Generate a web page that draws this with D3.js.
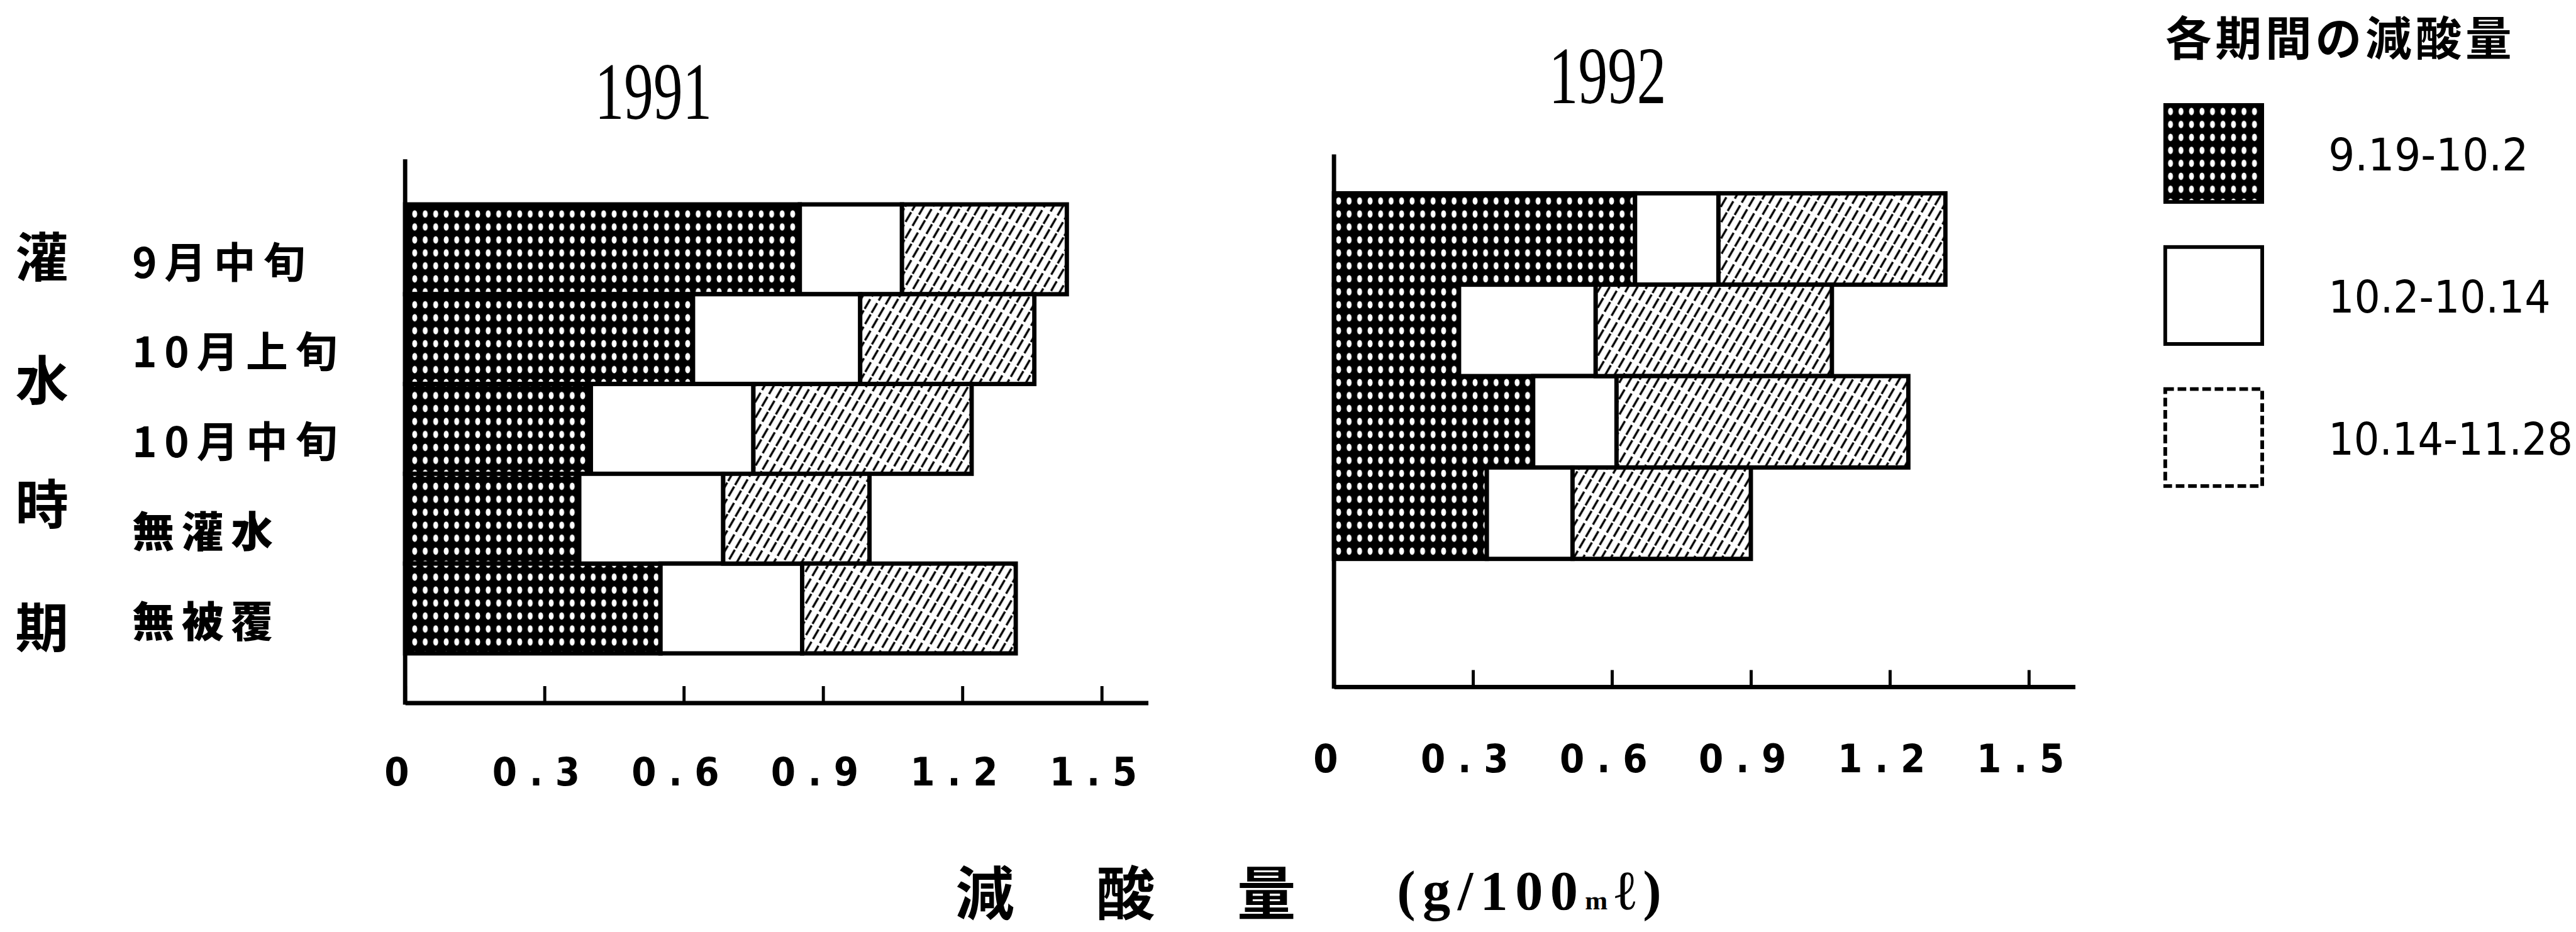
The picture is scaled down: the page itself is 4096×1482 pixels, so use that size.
<!DOCTYPE html>
<html>
<head>
<meta charset="utf-8">
<script src="https://cdn.jsdelivr.net/npm/d3@7"></script>
<style>
  body { margin: 0; background: #fff; }
</style>
</head>
<body>
<svg width="4096" height="1482"></svg>
<script>
// data (g/100ml)
var periods = ["9.19-10.2", "10.2-10.14", "10.14-11.28"];
var rows = ["9月中旬", "10月上旬", "10月中旬", "無灌水", "無被覆"];
var ticks = [0, 0.3, 0.6, 0.9, 1.2, 1.5];
var tickLabels = ["0", "0.3", "0.6", "0.9", "1.2", "1.5"];

var v1991_p1 = [0.85, 0.62, 0.40, 0.375, 0.55];
var v1991_p2 = [0.22, 0.36, 0.35, 0.31, 0.305];
var v1991_p3 = [0.355, 0.375, 0.47, 0.315, 0.46];

var v1992_p1 = [0.65, 0.27, 0.43, 0.33, 0];
var v1992_p2 = [0.18, 0.295, 0.18, 0.185, 0];
var v1992_p3 = [0.49, 0.51, 0.63, 0.385, 0];

var sideLabel = ["灌", "水", "時", "期"];
var legendTitle = "各期間の減酸量";

var svg = d3.select("svg");
var defs = svg.append("defs");
var root = svg.append("g").attr("transform", "scale(0.982)");

// fill patterns
var pd = defs.append("pattern").attr("id", "dots")
    .attr("patternUnits", "userSpaceOnUse").attr("width", 17).attr("height", 21);
pd.append("rect").attr("width", 17).attr("height", 21).attr("fill", "#000");
pd.append("ellipse").attr("cx", 8.5).attr("cy", 10.5).attr("rx", 4).attr("ry", 6).attr("fill", "#fff");

var ph = defs.append("pattern").attr("id", "hatch")
    .attr("patternUnits", "userSpaceOnUse").attr("width", 13).attr("height", 44)
    .attr("patternTransform", "rotate(30)");
ph.append("rect").attr("width", 13).attr("height", 44).attr("fill", "#fff");
ph.append("line").attr("x1", 6.5).attr("x2", 6.5).attr("y1", 0).attr("y2", 44)
    .attr("stroke", "#000").attr("stroke-width", 3.5).attr("stroke-dasharray", "18 5");

var fills = ["url(#dots)", "#fff", "url(#hatch)"];
var keys = ["p1", "p2", "p3"];

var cjk = "'Noto Sans CJK JP', sans-serif";
var num = "'DejaVu Sans Condensed', 'DejaVu Sans', sans-serif";
var serif = "'Liberation Serif', serif";

var panels = [
  {year: "1991", series: [v1991_p1, v1991_p2, v1991_p3],
   x0: 656, x1: 1859, top: 331, bottom: 1058, axisTop: 258, axisY: 1138,
   titleX: 1058, titleY: 192, pad: 88},
  {year: "1992", series: [v1992_p1, v1992_p2, v1992_p3],
   x0: 2160, x1: 3360, top: 313, bottom: 1053, axisTop: 250, axisY: 1112,
   titleX: 2603, titleY: 167, pad: 93}
];

panels.forEach(function(p, pi) {
  var x = d3.scaleLinear().domain([0, 1.6]).range([p.x0, p.x1]);
  var y = d3.scaleBand().domain(rows).range([p.top, p.bottom]).padding(0);
  var g = root.append("g");

  var table = rows.map(function(r, i) {
    return {row: r, p1: p.series[0][i], p2: p.series[1][i], p3: p.series[2][i]};
  });
  var stacked = d3.stack().keys(keys)(table);

  g.selectAll("g.layer").data(stacked).join("g")
    .attr("class", "layer")
    .attr("fill", function(d, i) { return fills[i]; })
    .selectAll("rect")
    .data(function(d) { return d.filter(function(e) { return e[1] - e[0] > 0; }); })
    .join("rect")
    .attr("x", function(d) { return x(d[0]); })
    .attr("y", function(d) { return y(d.data.row); })
    .attr("width", function(d) { return x(d[1]) - x(d[0]); })
    .attr("height", y.bandwidth())
    .attr("stroke", "#000").attr("stroke-width", 7);

  // bottom axis
  g.append("g")
    .attr("transform", "translate(0," + p.axisY + ")")
    .call(d3.axisBottom(x).tickValues(ticks)
      .tickFormat(function(d, i) { return tickLabels[i]; })
      .tickSizeInner(-27).tickSizeOuter(0).tickPadding(p.pad))
    .call(function(a) {
      a.attr("font-family", num).attr("font-size", 64).attr("font-weight", "bold");
      a.select(".domain").attr("stroke-width", 7);
      a.selectAll(".tick line").attr("stroke-width", 5);
      a.selectAll(".tick text").attr("letter-spacing", 20).attr("dx", -4);
    });

  // left axis line
  g.append("line")
    .attr("x1", x(0)).attr("x2", x(0))
    .attr("y1", p.axisTop).attr("y2", p.axisY + 3)
    .attr("stroke", "#000").attr("stroke-width", 7);

  // year title
  g.append("text")
    .attr("x", p.titleX).attr("y", p.titleY)
    .attr("text-anchor", "middle")
    .attr("font-family", serif).attr("font-size", 132)
    .attr("textLength", 190).attr("lengthAdjust", "spacingAndGlyphs")
    .text(p.year);

  // row labels for the first panel
  if (pi === 0) {
    g.selectAll("text.row").data(rows).join("text")
      .attr("class", "row")
      .attr("x", 214)
      .attr("y", function(d) { return y(d) + y.bandwidth() / 2 + 46; })
      .attr("font-family", cjk).attr("font-size", 68)
      .attr("font-weight", function(d) { return d.charAt(0) === "無" ? 900 : 700; })
      .attr("letter-spacing", 12)
      .text(function(d) { return d; });
  }
});

// side label 灌水時期
var sy = d3.scalePoint().domain(sideLabel).range([415, 1015]);
root.selectAll("text.side").data(sideLabel).join("text")
  .attr("class", "side")
  .attr("x", 68)
  .attr("y", function(d) { return sy(d) + 33; })
  .attr("text-anchor", "middle")
  .attr("font-family", cjk).attr("font-size", 86).attr("font-weight", "bold")
  .text(function(d) { return d; });

// x axis title
root.append("text")
  .attr("x", 1547).attr("y", 1482)
  .attr("font-family", cjk).attr("font-size", 95).attr("font-weight", "bold")
  .attr("letter-spacing", 133)
  .text("減酸量");
var unit = root.append("text")
  .attr("x", 2262).attr("y", 1472)
  .attr("font-family", serif).attr("font-size", 90).attr("font-weight", "bold")
  .attr("textLength", 428).attr("lengthAdjust", "spacing");
unit.append("tspan").text("(g/100");
unit.append("tspan").attr("font-size", 44).text("m");
unit.append("tspan").text("ℓ)");

// legend
var lg = root.append("g");
lg.append("text")
  .attr("x", 3506).attr("y", 90)
  .attr("font-family", cjk).attr("font-size", 75).attr("font-weight", "bold")
  .attr("letter-spacing", 6)
  .text(legendTitle);
var item = lg.selectAll("g.item").data(periods).join("g")
  .attr("class", "item")
  .attr("transform", function(d, i) { return "translate(3506," + (170 + i * 230) + ")"; });
item.append("rect")
  .attr("width", 157).attr("height", 157)
  .attr("fill", function(d, i) { return i === 2 ? "#fff" : fills[i]; })
  .attr("stroke", "#000").attr("stroke-width", 6)
  .attr("stroke-dasharray", function(d, i) { return i === 2 ? "14 6" : null; });
item.append("text")
  .attr("x", 264).attr("y", 106)
  .attr("font-family", num).attr("font-size", 72)
  .attr("textLength", function(d) { return d.length * 36; })
  .attr("lengthAdjust", "spacingAndGlyphs")
  .text(function(d) { return d; });
</script>
</body>
</html>
